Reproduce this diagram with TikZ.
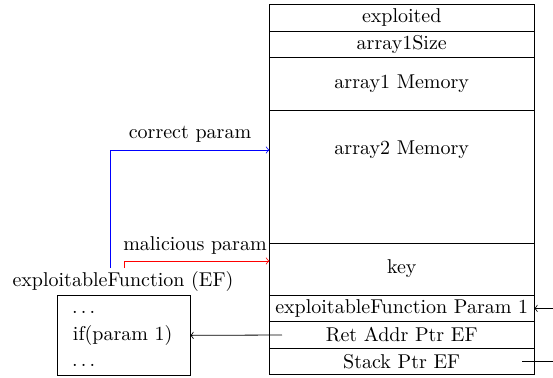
\documentclass[tikz,border=0pt]{standalone}
\begin{document}
\begin{tikzpicture}[x=0.5pt,y=-0.5pt,
  cell/.style={draw, minimum width=132.25pt, inner sep=0pt, outer sep=0pt},
  plain/.style={inner sep=0pt, outer sep=0pt}]
\useasboundingbox (0,0) rectangle (553,377);
% stack column
\node[cell, minimum height=13.25pt] (exploited) at (401.75,17.75) {exploited};
\node[cell, minimum height=13.15pt] (size) at (401.75,44.15) {array1Size};
\node[cell, minimum height=26.35pt] (a1) at (401.75,83.65) {array1 Memory};
\node[cell, minimum height=66.5pt] (a2) at (401.75,176.5) {};
\node[plain] (a2text) at (401.75,150) {array2 Memory};
\node[cell, minimum height=26pt] (key) at (401.75,269) {key};
\node[cell, minimum height=13.35pt] (param) at (401.75,308.35) {exploitableFunction Param 1};
\node[cell, minimum height=13.3pt] (ret) at (401.75,335) {Ret Addr Ptr EF};
\node[cell, minimum height=13pt] (sp) at (401.75,361.3) {Stack Ptr EF};
% function box
\node[draw, minimum width=66.15pt, minimum height=39.65pt, inner sep=0pt, outer sep=0pt] (efbox) at (123.85,335.35) {};
\node[plain, anchor=base west] (d1) at (72,313) {$\ldots$};
\node[plain, anchor=west] (ifp) at (73,335) {if(param 1)};
\node[plain, anchor=base west] (d2) at (72,366) {$\ldots$};
\node[plain] (eflabel) at (123,281) {exploitableFunction (EF)};
% labels
\node[plain] (corr) at (190,134) {correct param};
\node[plain] (mal) at (195,245) {malicious param};
% connectors
\coordinate (bstart) at (110,268);
\coordinate (rstart) at (124,268);
\draw[blue,->] (bstart) |- (a2text -| a2.west);
\draw[red,->] (rstart) |- ([yshift=4pt]key.west);
\coordinate (pin) at (553,308.35);
\draw[->] (pin) -- (param.east);
\coordinate (rs) at (282,335);
\draw[->] (rs) -- (efbox.east);
\coordinate (ss) at (522,361.3);
\coordinate (se) at (553,361.3);
\draw (ss) -- (se);
\end{tikzpicture}
\end{document}
